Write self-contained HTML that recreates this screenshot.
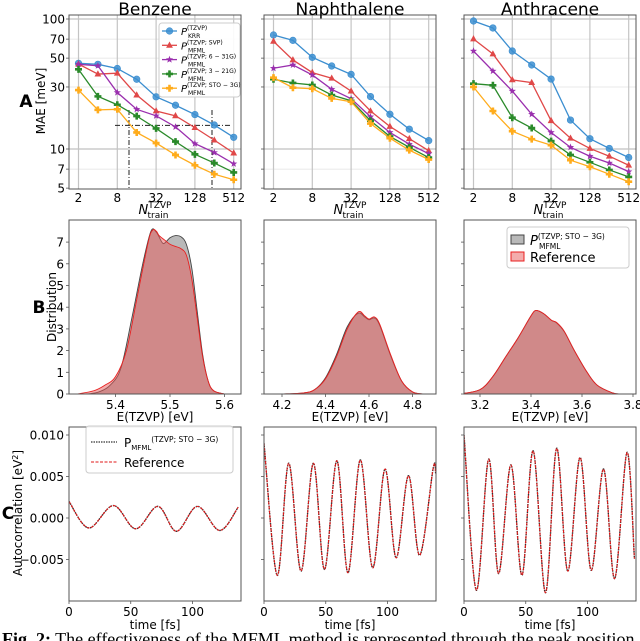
<!DOCTYPE html>
<html><head><meta charset="utf-8">
<style>
html,body{margin:0;padding:0;background:#fff;}
svg{display:block;font-family:"DejaVu Sans","Liberation Sans",sans-serif;}
</style></head>
<body>
<svg id="fig" width="640" height="641" viewBox="0 0 640 641" xmlns="http://www.w3.org/2000/svg">
<defs>
<clipPath id="ct0"><rect x="69" y="15" width="172" height="174"/></clipPath>
<clipPath id="ct1"><rect x="264" y="15" width="172" height="174"/></clipPath>
<clipPath id="ct2"><rect x="464" y="15" width="172" height="174"/></clipPath>
<clipPath id="cm0"><rect x="69" y="220" width="172" height="174"/></clipPath>
<clipPath id="cm1"><rect x="264" y="220" width="172" height="174"/></clipPath>
<clipPath id="cm2"><rect x="464" y="220" width="172" height="174"/></clipPath>
<clipPath id="cb0"><rect x="69" y="427" width="172" height="174"/></clipPath>
<clipPath id="cb1"><rect x="264" y="427" width="172" height="174"/></clipPath>
<clipPath id="cb2"><rect x="464" y="427" width="172" height="174"/></clipPath>
</defs>
<g id="layer"></g>
<text x="155" y="15" font-size="17" text-anchor="middle">Benzene</text>
<text x="350" y="15" font-size="17" text-anchor="middle">Naphthalene</text>
<text x="550" y="15" font-size="17" text-anchor="middle">Anthracene</text>
<text x="26" y="107" font-size="17" font-weight="bold" text-anchor="middle">A</text>
<text transform="translate(45,101) rotate(-90)" font-size="12" text-anchor="middle">MAE [meV]</text>
<text x="39" y="313" font-size="17" font-weight="bold" text-anchor="middle">B</text>
<text transform="translate(56,307) rotate(-90)" font-size="12" text-anchor="middle">Distribution</text>
<text x="8" y="519" font-size="17" font-weight="bold" text-anchor="middle">C</text>
<text transform="translate(22,513) rotate(-90)" font-size="12" text-anchor="middle">Autocorrelation [eV<tspan dy="-4" font-size="8">2</tspan><tspan dy="4">]</tspan></text>
<text x="2" y="645" font-size="18" font-family="Liberation Serif, serif"><tspan font-weight="bold">Fig. 2:</tspan> The effectiveness of the MFML method is represented through the peak position</text>
</svg>
<script>
const nTrain=[2,4,8,16,32,64,128,256,512];
const benKRR=[45.6,44.8,41.6,34.4,25.2,21.7,18.4,15.3,12.3];
const benSVP=[45.0,37.7,38.3,26.0,19.6,18.0,14.6,11.7,9.3];
const ben631=[44.8,43.7,27.2,20.2,18.0,14.8,11.0,9.4,7.7];
const ben321=[41.0,25.4,21.9,17.9,14.4,11.4,9.1,7.8,6.6];
const benSTO=[28.4,20.0,20.2,13.4,11.1,9.0,7.5,6.4,5.8];
const napKRR=[75.3,68.5,50.7,43.5,37.5,25.3,18.5,14.2,11.6];
const napSVP=[67.3,48.4,38.7,35.0,27.9,19.6,14.9,12.0,9.7];
const nap631=[41.8,44.3,37.1,28.8,24.4,17.7,13.4,10.9,9.2];
const nap321=[34.4,32.2,31.1,26.0,23.5,16.5,12.5,10.3,8.6];
const napSTO=[35.4,29.6,29.1,24.5,23.1,15.7,12.1,9.8,8.3];
const antKRR=[96.5,85.3,56.7,44.3,34.5,16.7,12.0,10.1,8.6];
const antSVP=[70.2,53.8,34.0,32.4,16.5,12.1,10.1,8.8,7.5];
const ant631=[56.7,39.8,27.9,18.5,13.4,10.3,8.8,7.8,6.7];
const ant321=[31.8,30.9,17.4,14.5,11.5,9.0,7.9,6.9,6.1];
const antSTO=[30.0,19.6,13.7,11.9,10.7,8.2,7.3,6.4,5.6];
const maeTicks=[5,7,10,30,50,70,100];
const nTicks=[2,8,32,128,512];

const benE_ref=[5.33,5.36,5.38,5.40,5.42,5.44,5.46,5.468,5.475,5.48,5.49,5.50,5.51,5.52,5.53,5.54,5.55,5.56,5.57,5.58,5.6];
const benD_ref=[0,0.15,0.4,0.8,2.0,4.5,7.0,7.55,7.5,7.3,7.1,6.9,6.8,6.7,6.4,5.3,3.5,1.7,0.6,0.15,0];
const benE_mod=[5.35,5.37,5.39,5.41,5.43,5.45,5.465,5.475,5.485,5.49,5.50,5.51,5.52,5.53,5.54,5.55,5.56,5.57,5.58,5.6];
const benD_mod=[0,0.1,0.4,1.2,3.5,6.0,7.5,7.45,7.0,6.95,7.2,7.3,7.25,6.9,5.8,3.8,1.8,0.6,0.15,0];
const napE=[4.2,4.3,4.35,4.4,4.45,4.5,4.55,4.58,4.6,4.625,4.65,4.7,4.75,4.8,4.85];
const napD_ref=[0,0.05,0.2,0.7,1.7,3.0,3.78,3.6,3.45,3.55,3.2,1.8,0.6,0.1,0];
const napD_mod=[0,0.05,0.2,0.75,1.8,3.1,3.72,3.55,3.42,3.5,3.15,1.75,0.6,0.1,0];
const antE=[3.12,3.2,3.25,3.3,3.35,3.4,3.42,3.45,3.48,3.5,3.53,3.57,3.62,3.66,3.72,3.75];
const antD_ref=[0,0.2,0.8,1.7,2.6,3.6,3.85,3.7,3.4,3.3,2.9,2.0,1.0,0.4,0.05,0];
const antD_mod=[0,0.2,0.8,1.7,2.6,3.6,3.85,3.7,3.4,3.28,2.88,2.0,1.0,0.4,0.05,0];
const densTicksY=[0,1,2,3,4,5,6,7];
const benTicksX=[5.4,5.5,5.6];
const napTicksX=[4.2,4.4,4.6,4.8];
const antTicksX=[3.2,3.4,3.6,3.8];

const benT=[0,16,36,54,72,87,104,122,137];
const benAC=[0.0020,-0.0012,0.0015,-0.0013,0.0014,-0.0016,0.0014,-0.0015,0.0013];
const napT=[0,10.7,20,30,40,49,59,68,78,88,98,107,117,126,137,139];
const napAC=[0.0090,-0.0069,0.0066,-0.0064,0.0066,-0.0062,0.0069,-0.0066,0.0070,-0.0060,0.0059,-0.0048,0.0051,-0.0045,0.0060,0.0054];
const antT=[0,10,20,28,38,47,56,66,75,84,94,103,113,122,132,138];
const antAC=[0.0100,-0.0087,0.0071,-0.0067,0.0064,-0.0069,0.0081,-0.0090,0.0084,-0.0064,0.0073,-0.0063,0.0059,-0.0073,0.0079,-0.0049];
const acTicksY=[-0.005,0,0.005,0.010];
const acTickLabels=["\u22120.005","0.000","0.005","0.010"];
const timeTicks=[0,50,100];

const NS="http://www.w3.org/2000/svg";
const layer=document.getElementById('layer');
const PX=[69,264,464], PW=172;
function mk(tag,attrs,parent){const e=document.createElementNS(NS,tag);for(const k in attrs)e.setAttribute(k,attrs[k]);(parent||layer).appendChild(e);return e;}
function smooth(pts){let d='M'+pts[0][0].toFixed(2)+','+pts[0][1].toFixed(2);for(let i=0;i<pts.length-1;i++){const p0=pts[i-1]||pts[i],p1=pts[i],p2=pts[i+1],p3=pts[i+2]||pts[i+1];const c1x=p1[0]+(p2[0]-p0[0])/6,c1y=p1[1]+(p2[1]-p0[1])/6,c2x=p2[0]-(p3[0]-p1[0])/6,c2y=p2[1]-(p3[1]-p1[1])/6;d+=` C${c1x.toFixed(2)},${c1y.toFixed(2)} ${c2x.toFixed(2)},${c2y.toFixed(2)} ${p2[0].toFixed(2)},${p2[1].toFixed(2)}`;}return d;}

/* ---------- top row ---------- */
const tx=(p,n)=>PX[p]+9.5+Math.log2(n/2)*19.4;
const ty=v=>149-130*Math.log10(v/10);
const series=[
 {name:'krr',color:'#3b8ed0',mk:'circle'},
 {name:'svp',color:'#e04848',mk:'tri'},
 {name:'631g',color:'#9a2fae',mk:'star'},
 {name:'321g',color:'#2a8a2a',mk:'plus'},
 {name:'sto3g',color:'#ffac1c',mk:'plus'}];
const topData=[[benKRR,benSVP,ben631,ben321,benSTO],[napKRR,napSVP,nap631,nap321,napSTO],[antKRR,antSVP,ant631,ant321,antSTO]];
const mols=['benzene','naphthalene','anthracene'];
function marker(type,x,y,c,g){let e;
 if(type==='circle'){e=mk('circle',{cx:x,cy:y,r:3.3,fill:c,stroke:c,'stroke-width':0.6,'fill-opacity':0.85},g);}
 else if(type==='tri'){e=mk('path',{d:`M${x},${y-3.8}L${x+3.4},${y+2.4}L${x-3.4},${y+2.4}Z`,fill:c},g);}
 else if(type==='star'){let d='';for(let k=0;k<10;k++){const r=k%2?1.6:3.8,a=-Math.PI/2+k*Math.PI/5;d+=(k?'L':'M')+(x+r*Math.cos(a)).toFixed(2)+','+(y+r*Math.sin(a)).toFixed(2);}e=mk('path',{d:d+'Z',fill:c},g);}
 else {e=mk('path',{d:`M${x-1.3},${y-3.5}h2.6v2.2h2.2v2.6h-2.2v2.2h-2.6v-2.2h-2.2v-2.6h2.2Z`,fill:c},g);}
 
 
}
for(let p=0;p<3;p++){
 const g=mk('g',{});
 
 
 const bg=mk('rect',{x:PX[p],y:15,width:PW,height:174,fill:'#fff'},g);
 
 
 for(const v of [7,30,50,70]){const l=mk('line',{x1:PX[p],x2:PX[p]+PW,y1:ty(v),y2:ty(v),stroke:'#e2e2e2','stroke-width':0.8},g);
  
  }
 for(const v of [10,100]){const l=mk('line',{x1:PX[p],x2:PX[p]+PW,y1:ty(v),y2:ty(v),stroke:'#b0b0b0','stroke-width':1},g);
  
  }
 for(const n of nTicks){const l=mk('line',{x1:tx(p,n),x2:tx(p,n),y1:15,y2:189,stroke:'#c4c4c4','stroke-width':1.2},g);
  
  
  const t=mk('text',{x:tx(p,n),y:202,'font-size':12,'text-anchor':'middle'},g);t.textContent=n;
  
  }
 for(const v of maeTicks){const l=mk('line',{x1:PX[p]-3,x2:PX[p],y1:ty(v),y2:ty(v),stroke:'#555','stroke-width':0.8},g);
  
  
  if(p===0){const t=mk('text',{x:PX[p]-4,y:ty(v)+4.5,'font-size':12,'text-anchor':'end'},g);t.textContent=v;
   
   }}
 if(p===0){
  const d1=mk('path',{d:`M115,${ty(15.2)}H232M129,110V189M212,110V189`,stroke:'#222','stroke-width':1,fill:'none','stroke-dasharray':'5 2 1 2'},g);
  
  
 }
 const cg=mk('g',{'clip-path':`url(#ct${p})`},g);
 for(let s=0;s<5;s++){const arr=topData[p][s];
  const pts=nTrain.map((n,i)=>[tx(p,n),ty(arr[i])]);
  const pl=mk('polyline',{points:pts.map(q=>q.join(',')).join(' '),fill:'none',stroke:series[s].color,'stroke-width':1.3},cg);
  
  
  pts.forEach(q=>marker(series[s].mk,q[0],q[1],series[s].color,cg));}
 const fr=mk('rect',{x:PX[p],y:15,width:PW,height:174,fill:'none',stroke:'#555','stroke-width':1},g);
 
 
 const xl=mk('text',{x:PX[p]+86,y:214,'font-size':13,'text-anchor':'middle'},g);
 xl.innerHTML='<tspan font-style="italic">N</tspan><tspan dy="-6" font-size="9">TZVP</tspan><tspan dx="-24" dy="10" font-size="9">train</tspan>';
 
 
}
/* top legend */
{const g=mk('g',{});
 
 
 const b=mk('rect',{x:159,y:23,width:81,height:74,rx:3,fill:'#fff','fill-opacity':0.9,stroke:'#ccc'},g);
 
 
 const sups=['(TZVP)','(TZVP; SVP)','(TZVP; 6 \u2212 31G)','(TZVP; 3 \u2212 21G)','(TZVP; STO \u2212 3G)'];
 const subs=['KRR','MFML','MFML','MFML','MFML'];
 for(let s=0;s<5;s++){const y=31+s*14.3;
  const l=mk('line',{x1:162,x2:177,y1:y,y2:y,stroke:series[s].color,'stroke-width':1.3},g);
  
  
  marker(series[s].mk,169.5,y,series[s].color,g);
  const t=mk('text',{x:181,y:y+4,'font-size':10},g);
  t.innerHTML=`<tspan font-style="italic">P</tspan><tspan dy="-5" font-size="6">${sups[s]}</tspan><tspan x="188" dy="8" font-size="6">${subs[s]}</tspan>`;
  
  }
}

/* ---------- middle row ---------- */
const mxs=[e=>115.5+(e-5.4)*545,e=>282+(e-4.2)*217.5,e=>480+(e-3.2)*255];
const my=v=>394-21.7*v;
const dens=[[benE_mod,benD_mod,benE_ref,benD_ref],[napE,napD_mod,napE,napD_ref],[antE,antD_mod,antE,antD_ref]];
const dTicks=[benTicksX,napTicksX,antTicksX];
for(let p=0;p<3;p++){
 const g=mk('g',{});
 
 
 const cg=mk('g',{'clip-path':`url(#cm${p})`},g);
 const [em,dm,er,dr]=dens[p];const mx=mxs[p];
 const pm=em.map((e,i)=>[mx(e),my(dm[i])]);
 const pr=er.map((e,i)=>[mx(e),my(dr[i])]);
 const a1=mk('path',{d:smooth(pm)+`L${pm[pm.length-1][0]},394L${pm[0][0]},394Z`,fill:'rgba(128,128,128,0.55)',stroke:'#444','stroke-width':0.9},cg);
 
 
 const a2=mk('path',{d:smooth(pr)+`L${pr[pr.length-1][0]},394L${pr[0][0]},394Z`,fill:'rgba(232,90,90,0.5)',stroke:'#e82020','stroke-width':0.9},cg);
 
 
 for(const v of densTicksY){const l=mk('line',{x1:PX[p]-3,x2:PX[p],y1:my(v),y2:my(v),stroke:'#555','stroke-width':0.8},g);
  
  
  if(p===0){const t=mk('text',{x:PX[p]-5,y:my(v)+4.5,'font-size':12,'text-anchor':'end'},g);t.textContent=v;
   
   }}
 for(const e of dTicks[p]){const l=mk('line',{x1:mx(e),x2:mx(e),y1:394,y2:397,stroke:'#555','stroke-width':0.8},g);
  
  
  const t=mk('text',{x:mx(e),y:409,'font-size':12,'text-anchor':'middle'},g);t.textContent=e.toFixed(1);
  
  }
 const fr=mk('rect',{x:PX[p],y:220,width:PW,height:174,fill:'none',stroke:'#555','stroke-width':1},g);
 
 
 const xl=mk('text',{x:PX[p]+86,y:421,'font-size':12,'text-anchor':'middle'},g);xl.textContent='E(TZVP) [eV]';
 
 
}
{const g=mk('g',{});
 
 
 const b=mk('rect',{x:507,y:227,width:122,height:41,rx:3,fill:'#fff','fill-opacity':0.9,stroke:'#ccc'},g);
 
 
 const p1=mk('rect',{x:511,y:235,width:13,height:9,fill:'rgba(128,128,128,0.55)',stroke:'#444'},g);
 
 
 const p2=mk('rect',{x:511,y:252,width:13,height:9,fill:'rgba(232,90,90,0.5)',stroke:'#e82020'},g);
 
 
 const t1=mk('text',{x:530,y:245,'font-size':13},g);
 t1.innerHTML='<tspan font-style="italic">P</tspan><tspan dy="-6" font-size="7.5">(TZVP; STO \u2212 3G)</tspan><tspan x="539" dy="10" font-size="7.5">MFML</tspan>';
 
 
 const t2=mk('text',{x:530,y:262,'font-size':13},g);t2.textContent='Reference';
 
 
}

/* ---------- bottom row ---------- */
const bx=(p,t)=>PX[p]+t*1.235;
const by=v=>518-v*8300;
const acT=[benT,napT,antT], acV=[benAC,napAC,antAC];
for(let p=0;p<3;p++){
 const g=mk('g',{});
 
 
 const cg=mk('g',{'clip-path':`url(#cb${p})`},g);
 const pts=acT[p].map((t,i)=>[bx(p,t),by(acV[p][i])]);
 const l1=mk('path',{d:smooth(pts),fill:'none',stroke:'#333','stroke-width':1.4,'stroke-dasharray':'1.5 1'},cg);
 
 
 const l2=mk('path',{d:smooth(pts),fill:'none',stroke:'#e01818','stroke-width':1.1,'stroke-dasharray':'3 1.5'},cg);
 
 
 for(let i=0;i<acTicksY.length;i++){const v=acTicksY[i];const l=mk('line',{x1:PX[p]-3,x2:PX[p],y1:by(v),y2:by(v),stroke:'#555','stroke-width':0.8},g);
  
  
  if(p===0){const t=mk('text',{x:PX[p]-5,y:by(v)+4.5,'font-size':12,'text-anchor':'end'},g);t.textContent=acTickLabels[i];
   
   }}
 for(const tt of timeTicks){const l=mk('line',{x1:bx(p,tt),x2:bx(p,tt),y1:601,y2:604,stroke:'#555','stroke-width':0.8},g);
  
  
  const t=mk('text',{x:bx(p,tt),y:616,'font-size':12,'text-anchor':'middle'},g);t.textContent=tt;
  
  }
 const fr=mk('rect',{x:PX[p],y:427,width:PW,height:174,fill:'none',stroke:'#555','stroke-width':1},g);
 
 
 const xl=mk('text',{x:PX[p]+86,y:629,'font-size':12,'text-anchor':'middle'},g);xl.textContent='time [fs]';
 
 
}
{const g=mk('g',{});
 
 
 const b=mk('rect',{x:86,y:426,width:147,height:47,rx:3,fill:'#fff','fill-opacity':0.9,stroke:'#ccc'},g);
 
 
 const l1=mk('line',{x1:91,x2:117,y1:442,y2:442,stroke:'#333','stroke-width':1.3,'stroke-dasharray':'1.5 1'},g);
 
 
 const l2=mk('line',{x1:91,x2:117,y1:462,y2:462,stroke:'#e01818','stroke-width':1.1,'stroke-dasharray':'3 1.5'},g);
 
 
 const t1=mk('text',{x:124,y:447,'font-size':12},g);
 t1.innerHTML='P<tspan dy="3" font-size="7">MFML</tspan><tspan dy="-8" font-size="7.5">(TZVP; STO \u2212 3G)</tspan>';
 
 
 const t2=mk('text',{x:124,y:467,'font-size':12},g);t2.textContent='Reference';
 
 
}
</script>
</body></html>
